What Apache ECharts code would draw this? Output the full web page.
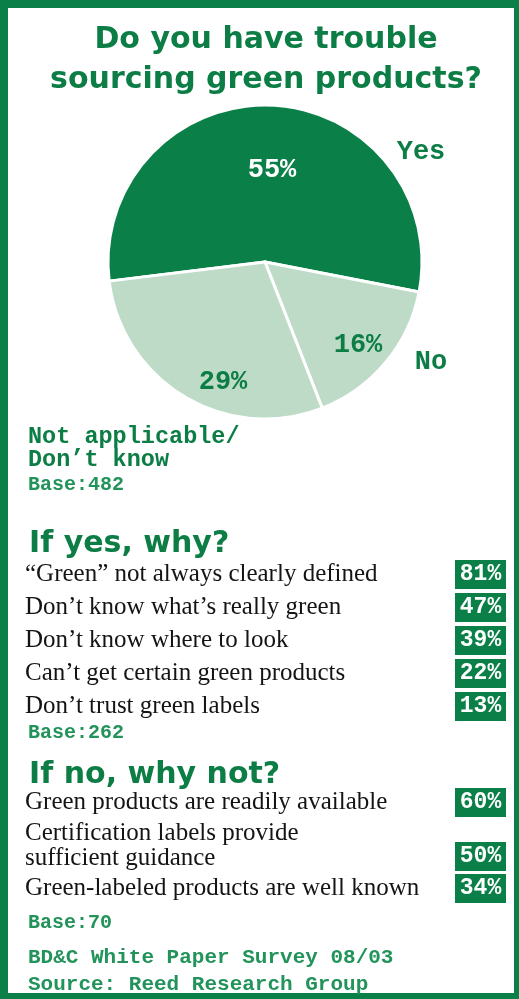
<!DOCTYPE html>
<html><head><meta charset="utf-8">
<script src="https://cdn.jsdelivr.net/npm/echarts@6/dist/echarts.min.js"></script>
<style>html,body{margin:0;padding:0;background:#fff}#c{width:519px;height:999px}</style>
</head><body><div id="c"></div>
<script>
// ---- data ----
const titleLines = ['Do you have trouble', 'sourcing green products?'];
const pieCategories = ['Yes', 'No', 'Not applicable/\nDon’t know'];
const pieValues = [55, 16, 29];
const pieBase = 'Base:482';
const yesHeading = 'If yes, why?';
const yesReasons = ['“Green” not always clearly defined', 'Don’t know what’s really green', 'Don’t know where to look', 'Can’t get certain green products', 'Don’t trust green labels'];
const yesValues = [81, 47, 39, 22, 13];
const yesBase = 'Base:262';
const noHeading = 'If no, why not?';
const noReasons = ['Green products are readily available', 'Certification labels provide\nsufficient guidance', 'Green-labeled products are well known'];
const noValues = [60, 50, 34];
const noBase = 'Base:70';
const footerLines = ['BD&C White Paper Survey 08/03', 'Source: Reed Research Group'];

// ---- styles ----
const DARK = '#0a8048';
const LIGHT = '#bedbc8';
const TXT = '#0b7d45';
const SOFT = '#22935a';
const MONO = '"Liberation Mono", "DejaVu Sans Mono", monospace';
const SANS = '"DejaVu Sans", "Open Sans", sans-serif';
const SERIF = '"Liberation Serif", "DejaVu Serif", serif';

const pctPos = [[272, 170], [358, 345], [223, 382]];
const namePos = [[421, 152, 'center', 27], [431, 362, 'center', 27], [28, 449, 'left', 23.5]];

const chart = echarts.init(document.getElementById('c'), null, {renderer: 'canvas'});

function listSeries(idx, reasons, values) {
  return {
    type: 'scatter', xAxisIndex: idx, yAxisIndex: idx,
    symbol: 'rect', symbolSize: [51, 29],
    itemStyle: {color: DARK, opacity: 1},
    encode: {x: 0, y: 1},
    data: values.map((v, i) => {
      const two = reasons[i].indexOf('\n') >= 0;
      return {value: ['%', reasons[i], v], symbolOffset: two ? [0, 11] : [0, 0]};
    }),
    label: {show: true, position: 'inside', formatter: p => p.value[2] + '%',
      fontFamily: MONO, fontWeight: 'bold', fontSize: 23, color: '#fff'},
    emphasis: {disabled: true}, silent: true
  };
}
function yAx(idx, reasons) {
  return {type: 'category', gridIndex: idx, data: reasons, inverse: true,
    axisLine: {show: false}, axisTick: {show: false}, splitLine: {show: false},
    axisLabel: {interval: 0, align: 'left', margin: 430, fontFamily: SERIF, fontSize: 25,
      lineHeight: 25, color: '#141414'}};
}
function xAx(idx) {
  return {type: 'category', gridIndex: idx, data: ['%'], show: false};
}
function txt(text, x, y, size, color, font, weight) {
  return {type: 'text', x: x, y: y, silent: true,
    style: {text: text, fontSize: size, fontFamily: font || MONO, fontWeight: weight || 'bold',
      fill: color, verticalAlign: 'middle', align: 'left'}};
}

const option = {
  backgroundColor: '#fff',
  animation: false,
  title: [
    {text: titleLines.join('\n'), left: 261, top: 15, textAlign: 'center',
      textStyle: {fontFamily: SANS, fontWeight: 'bold', fontSize: 30, lineHeight: 40, color: TXT}},
    {text: yesHeading, left: 24, top: 519,
      textStyle: {fontFamily: SANS, fontWeight: 'bold', fontSize: 30, lineHeight: 40, color: TXT}},
    {text: noHeading, left: 24, top: 750,
      textStyle: {fontFamily: SANS, fontWeight: 'bold', fontSize: 30, lineHeight: 40, color: TXT}}
  ],
  grid: [
    {left: 455, width: 51, top: 558, height: 165},
    {left: 455, width: 51, top: 781, height: 129}
  ],
  xAxis: [xAx(0), xAx(1)],
  yAxis: [yAx(0, yesReasons), yAx(1, noReasons)],
  series: [
    {
      type: 'pie', center: [265, 262], radius: 157, startAngle: 187, clockwise: true,
      avoidLabelOverlap: false, silent: true, emphasis: {disabled: true},
      itemStyle: {borderColor: '#fff', borderWidth: 3},
      data: pieCategories.map((n, i) => ({name: n, value: pieValues[i],
        itemStyle: {color: i === 0 ? DARK : LIGHT},
        label: {color: i === 0 ? '#fff' : TXT}})),
      label: {show: true, position: 'inside', formatter: '{c}%', fontFamily: MONO,
        fontWeight: 'bold', fontSize: 27},
      labelLine: {show: false},
      labelLayout: p => ({x: pctPos[p.dataIndex][0], y: pctPos[p.dataIndex][1],
        align: 'center', verticalAlign: 'middle'})
    },
    {
      type: 'pie', center: [265, 262], radius: 157, startAngle: 187, clockwise: true,
      avoidLabelOverlap: false, silent: true, emphasis: {disabled: true},
      itemStyle: {color: 'rgba(0,0,0,0)', borderWidth: 0},
      data: pieCategories.map((n, i) => ({name: n, value: pieValues[i],
        label: {fontSize: namePos[i][3]}})),
      label: {show: true, position: 'outside', formatter: '{b}', fontFamily: MONO,
        fontWeight: 'bold', fontSize: 24, lineHeight: 23, color: TXT},
      labelLine: {show: false},
      labelLayout: p => ({x: namePos[p.dataIndex][0], y: namePos[p.dataIndex][1],
        align: namePos[p.dataIndex][2], verticalAlign: 'middle'})
    },
    listSeries(0, yesReasons, yesValues),
    listSeries(1, noReasons, noValues)
  ],
  graphic: [
    {type: 'rect', shape: {x: 0, y: 0, width: 8, height: 999}, style: {fill: DARK}, silent: true},
    {type: 'rect', shape: {x: 0, y: 0, width: 519, height: 8}, style: {fill: DARK}, silent: true},
    {type: 'rect', shape: {x: 514, y: 0, width: 5, height: 999}, style: {fill: DARK}, silent: true},
    {type: 'rect', shape: {x: 0, y: 993, width: 519, height: 6}, style: {fill: DARK}, silent: true},
    txt(pieBase, 28, 485, 20, SOFT),
    txt(yesBase, 28, 733, 20, SOFT),
    txt(noBase, 28, 923, 20, SOFT),
    txt(footerLines[0], 28, 958, 21, SOFT),
    txt(footerLines[1], 28, 985, 21, SOFT)
  ]
};
chart.setOption(option);
</script>
</body></html>
